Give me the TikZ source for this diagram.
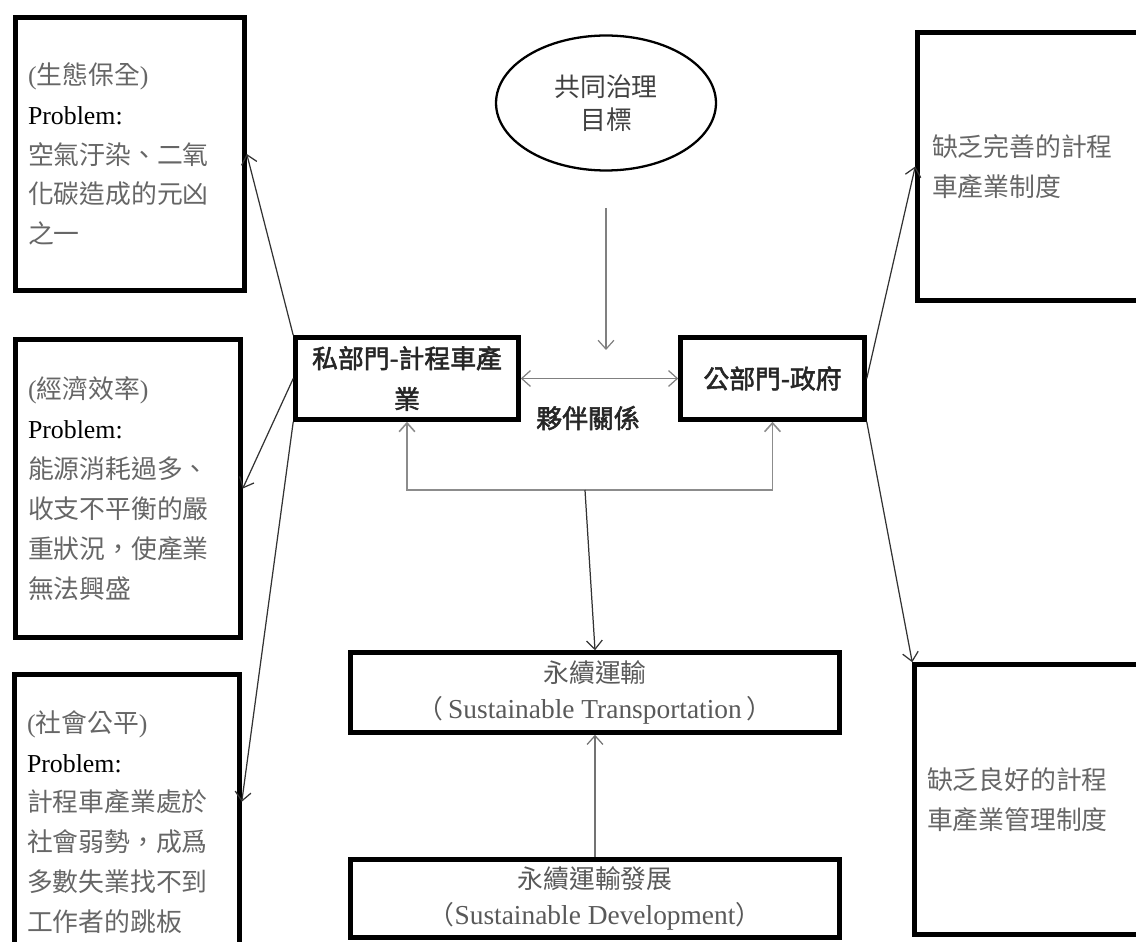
\documentclass[tikz,border=0pt]{standalone}
\usepackage{fontspec}
\setmainfont{Liberation Serif}
\newfontfamily\cjk{Noto Sans CJK TC}
\newfontfamily\cjkbf[FakeBold=2]{Noto Sans CJK TC}
\usetikzlibrary{arrows.meta, positioning, shapes.geometric}

\begin{document}
\begin{tikzpicture}[x=0.02cm, y=-0.02cm, >={Straight Barb[length=5pt,width=9pt]},
    issue/.style={draw, line width=2.6pt, align=left, inner xsep=0.25cm, inner ysep=0pt, text=black!60, font=\cjk\fontsize{14.7}{22.7}\selectfont},
    sector/.style={draw, line width=2.6pt, align=center, inner sep=0pt, text=black!85, font=\cjkbf\fontsize{14.7}{23.2}\selectfont},
    target/.style={draw, line width=2.6pt, align=center, inner sep=0pt, text=black!65, font=\cjk\fontsize{14.7}{21}\selectfont},
    link/.style={->, line width=0.7pt, black!80},
    tie/.style={line width=0.9pt, black!45}]
    \useasboundingbox (0,0) rectangle (1136,942);

    % problems of the private side
    \node[issue, text width=4.08cm, minimum height=5.46cm] (ecology) at (130,154) {{\rmfamily(}生態保全{\rmfamily)}\\ {\rmfamily\color{black}Problem:}\\ 空氣汙染、二氧\\ 化碳造成的元凶\\ 之一};
    \node[issue, text width=4.0cm, minimum height=5.96cm] (economy) at (128,488.5) {{\rmfamily(}經濟效率{\rmfamily)}\\ {\rmfamily\color{black}Problem:}\\ 能源消耗過多、\\ 收支不平衡的嚴\\ 重狀況，使產業\\ 無法興盛};
    \node[issue, text width=4.0cm, minimum height=5.9cm] (equity) at (127,822) {{\rmfamily(}社會公平{\rmfamily)}\\ {\rmfamily\color{black}Problem:}\\ 計程車產業處於\\ 社會弱勢，成爲\\ 多數失業找不到\\ 工作者的跳板};

    % problems of the public side
    \node[issue, text width=4.22cm, inner xsep=0.29cm, minimum height=5.36cm] (policy) at (1037.5,166.5) {缺乏完善的計程\\ 車產業制度};
    \node[issue, text width=4.36cm, minimum height=5.4cm] (manage) at (1036,799.5) {缺乏良好的計程\\ 車產業管理制度};

    \node[draw, ellipse, line width=1.3pt, minimum width=4.4cm, minimum height=2.7cm, inner sep=0pt, align=center, text=black!75, font=\cjk\fontsize{14.7}{18.7}\selectfont] (goal) at (606,103) {共同治理\\ 目標};

    \node[sector, minimum width=4.46cm, minimum height=1.64cm] (private) at (407,378.5) {私部門-計程車產\\ 業};
    \node[sector, minimum width=3.68cm, minimum height=1.64cm] (public) at (772.5,378.5) {公部門-政府};
    \node[text=black!85, font=\cjkbf\fontsize{14.7}{18}\selectfont] (partner) at (588,418) {夥伴關係};

    \node[target, minimum width=9.78cm, minimum height=1.6cm] (transport) at (595,692.5) {永續運輸\\ （{\rmfamily\fontsize{15.6}{21}\selectfont\,Sustainable Transportation\,}）};
    \node[target, minimum width=9.78cm, minimum height=1.56cm] (develop) at (595,898.5) {永續運輸發展\\ （{\rmfamily\fontsize{15.6}{21}\selectfont Sustainable Development}）};

    \coordinate (goaltop) at (606,208);
    \coordinate (goaltip) at (606,350);
    \coordinate (fork) at (585,490);

    \draw[link, black!50] (goaltop) -- (goaltip);
    \draw[link, <->, black!50] (private.east) -- (public.west);
    \draw[tie, ->] (fork) -| (private.south);
    \draw[tie, ->] (fork) -| (public.south);
    \draw[link] (fork) -- (transport.north);
    \draw[link, black!55] (develop.north) -- (transport.south);

    \draw[link] (private.north west) -- (ecology.east);
    \draw[link] (private.west) -- (economy.east);
    \draw[link] (private.south west) -- (equity.10);
    \draw[link] (public.east) -- (policy.west);
    \draw[link] (public.south east) -- (manage.north west);
\end{tikzpicture}
\end{document}
